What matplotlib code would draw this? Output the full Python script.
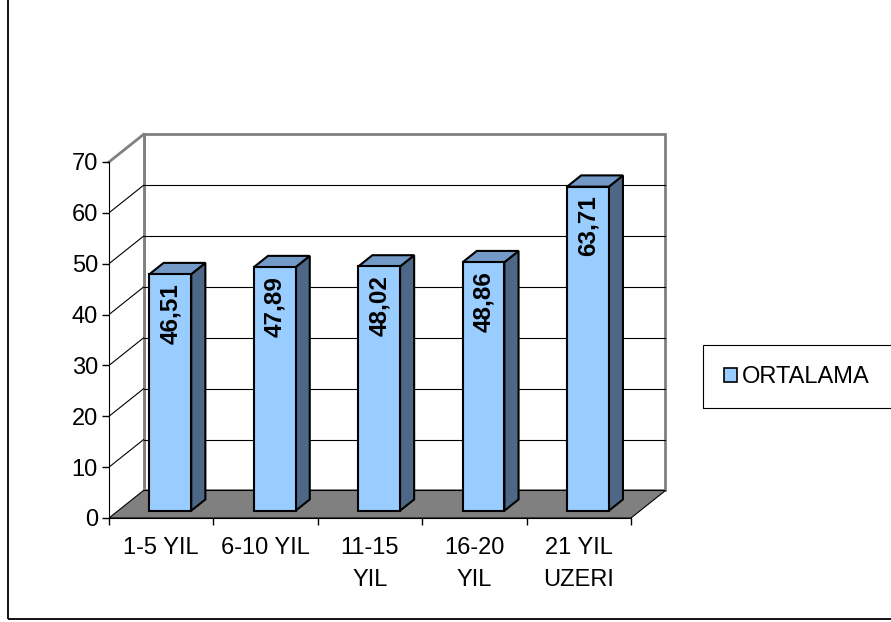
import matplotlib.pyplot as plt
from matplotlib.patches import Polygon, Rectangle, Patch

categories = ['1-5 YIL', '6-10 YIL', '11-15\nYIL', '16-20\nYIL', '21 YIL\nUZERI']
values = [46.51, 47.89, 48.02, 48.86, 63.71]
value_labels = ['46,51', '47,89', '48,02', '48,86', '63,71']
series_name = 'ORTALAMA'
y_ticks = [0, 10, 20, 30, 40, 50, 60, 70]

plt.rcParams['font.family'] = ['Liberation Sans', 'DejaVu Sans']

fig = plt.figure(figsize=(8.91, 6.22), dpi=100)
ax = fig.add_axes([109 / 891, 104 / 622, 558 / 891, 384 / 622])
ax.set_xlim(0, 5.345)
ax.set_ylim(0, 75.5)

# depth of the 3d box (in data units)
dx, dy = 0.3305, 5.407
ymax = y_ticks[-1]
n = len(categories)
grey = '#808080'

# back wall
ax.add_patch(Rectangle((dx, dy), n, ymax, facecolor='white', edgecolor=grey,
                       lw=2, zorder=0.5, clip_on=False))
# left wall
ax.add_patch(Polygon([(0, 0), (dx, dy), (dx, dy + ymax), (0, ymax)],
                     closed=True, facecolor='white', edgecolor='none', zorder=0.6))
ax.plot([0, dx], [ymax, ymax + dy], color=grey, lw=2, zorder=0.7, clip_on=False)
ax.plot([dx, dx], [dy, dy + ymax], color=grey, lw=2, zorder=0.7, clip_on=False)

# gridlines
for v in y_ticks[1:-1]:
    ax.plot([dx, n + dx], [v + dy, v + dy], color='black', lw=0.8, zorder=0.8)
    ax.plot([0, dx], [v, v + dy], color='black', lw=0.8, zorder=0.8)

# floor
ax.add_patch(Polygon([(0, 0), (n, 0), (n + dx, dy), (dx, dy)], closed=True,
                     facecolor=grey, edgecolor='black', lw=0.8, zorder=1))

# bars
front_c, top_c, side_c = '#99CCFF', '#7399C6', '#4D6787'
f0, f1, w = 0.265, 0.675, 0.40
ddx, ddy = (f1 - f0) * dx, (f1 - f0) * dy
for i, (v, lab) in enumerate(zip(values, value_labels)):
    x0 = i + 0.5 - w / 2 + f0 * dx
    y0 = f0 * dy
    x1 = x0 + w
    ax.add_patch(Polygon([(x1, y0), (x1 + ddx, y0 + ddy), (x1 + ddx, y0 + v + ddy), (x1, y0 + v)],
                         closed=True, facecolor=side_c, edgecolor='black', lw=1.5, zorder=2))
    ax.add_patch(Polygon([(x0, y0 + v), (x1, y0 + v), (x1 + ddx, y0 + v + ddy), (x0 + ddx, y0 + v + ddy)],
                         closed=True, facecolor=top_c, edgecolor='black', lw=1.5, zorder=2))
    ax.add_patch(Rectangle((x0, y0), w, v, facecolor=front_c, edgecolor='black', lw=1.5, zorder=3))
    ax.text(x0 + w / 2, y0 + v - 1.7, lab, rotation=90, ha='center', va='top',
            fontsize=17.5, fontweight='bold', zorder=4)

# axes
for s in ['top', 'right']:
    ax.spines[s].set_visible(False)
ax.spines['left'].set_bounds(0, ymax)
ax.spines['bottom'].set_bounds(0, n)
ax.spines['left'].set_zorder(5)
ax.spines['bottom'].set_zorder(5)
ax.set_yticks(y_ticks)
ax.set_yticklabels([str(t) for t in y_ticks], fontsize=17)
ax.tick_params(axis='y', length=5, width=1, pad=3, direction='out')
ax.set_xticks(range(n + 1))
ax.set_xticklabels([])
ax.tick_params(axis='x', which='major', length=5, width=1, direction='out')
ax.set_xticks([i + 0.5 for i in range(n)], minor=True)
ax.set_xticklabels(categories, minor=True, fontsize=17, linespacing=1.55)
ax.tick_params(axis='x', which='minor', length=0, pad=14)

# legend
fig.legend(handles=[Patch(facecolor=front_c, edgecolor='black', lw=1.2, label=series_name)],
           loc='center left', bbox_to_anchor=(703 / 891, 1 - 377 / 622), frameon=False,
           handlelength=0.55, handleheight=0.55, handletextpad=0.2, fontsize=17)
fig.patches.append(Rectangle((703 / 891, (622 - 408) / 622), 0.3, 63 / 622,
                             transform=fig.transFigure, fill=False, edgecolor='black', lw=0.8))

# outer chart border
fig.patches.append(Rectangle((8 / 891, 3 / 622), 1, 1, transform=fig.transFigure,
                             fill=False, edgecolor='black', lw=1.3))

fig.savefig('out.png', dpi=100)
